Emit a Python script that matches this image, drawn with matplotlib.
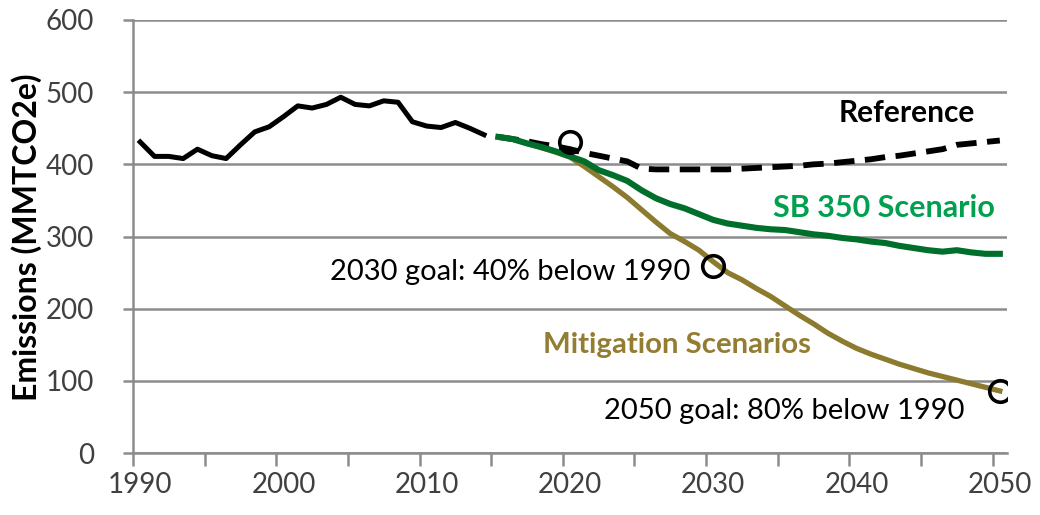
import numpy as np
from matplotlib import pyplot as plt

# historical emissions (MMTCO2e)
hist_years = np.arange(1990, 2015)
hist_vals = [431, 411, 411, 408, 421, 412, 408, 427, 445, 452,
             466, 481, 478, 483, 493, 483, 481, 488, 486, 459,
             453, 451, 458, 450, 441]

proj_years = np.arange(2015, 2051)
# reference case
ref_vals = [438, 435, 432, 428, 425, 421, 416, 412, 408, 404,
            394, 393, 393, 393, 393, 393, 393, 394, 395, 396,
            397, 398, 400, 401, 403, 405, 407, 410, 412, 415,
            418, 421, 427, 429, 431, 433]
# SB 350 scenario
sb350_vals = [438, 435, 429, 424, 418, 411, 404, 392, 385, 377,
              364, 353, 345, 339, 331, 323, 318, 315, 312, 310,
              309, 306, 303, 301, 298, 296, 293, 291, 287, 284,
              281, 279, 281, 278, 276, 276]
# mitigation scenarios
mitig_vals = [438, 435, 429, 423, 417, 410, 397, 383, 369, 354,
              337, 320, 304, 293, 281, 265, 250, 240, 228, 217,
              204, 191, 179, 166, 155, 145, 137, 130, 123, 117,
              111, 106, 101, 96, 91, 86]

goal_years = [2020, 2030, 2050]
goal_vals = [431, 259, 86]

GRAY = '#8c8c8c'
TXT = '#404040'
FONT = 'Lato'


def main():
    fig = plt.figure(figsize=(10.4, 5.15), dpi=100)
    ax = fig.add_axes([133 / 1040, 1 - 453 / 515, 874 / 1040, 433 / 515])

    ax.set_xlim(1989.5, 2050.5)
    ax.set_ylim(0, 600)

    ax.yaxis.grid(True, color=GRAY, lw=1.8)
    ax.set_axisbelow(True)
    for s in ['top', 'right']:
        ax.spines[s].set_visible(False)
    for s in ['left', 'bottom']:
        ax.spines[s].set_color(GRAY)
        ax.spines[s].set_linewidth(1.8)

    ax.set_yticks(np.arange(0, 601, 100))
    ax.tick_params(axis='y', length=7, width=1.8, color=GRAY, pad=21,
                   labelsize=20, labelcolor=TXT)
    for lab in ax.get_yticklabels():
        lab.set_family(FONT)

    # tick marks between categories, labels at category centres
    ax.set_xticks(np.arange(1989.5, 2050, 5))
    ax.set_xticklabels([])
    ax.tick_params(axis='x', which='major', length=9, width=1.8, color=GRAY)
    lab_years = np.arange(1990, 2051, 10)
    ax.set_xticks(lab_years, minor=True)
    ax.set_xticklabels([str(y) for y in lab_years], minor=True,
                       family=FONT, fontsize=20, color=TXT)
    ax.tick_params(axis='x', which='minor', length=0, pad=14)

    ax.plot(hist_years, hist_vals, color='black', lw=3.6,
            solid_joinstyle='round')
    ax.plot(proj_years, ref_vals, color='black', lw=4.2,
            dashes=(3.5, 1.8), solid_capstyle='round')
    ax.plot(proj_years, mitig_vals, color='#8c7a2e', lw=3.8)
    ax.plot(proj_years, sb350_vals, color='#006f2b', lw=4.4)
    ax.plot(goal_years, goal_vals, 'o', ms=15.5, mfc='none', mec='black',
            mew=2.6)

    ax.text(2048.25, 471, 'Reference', ha='right', va='center',
            family=FONT, fontsize=21.5, fontweight='bold', color='black')
    ax.text(2049.65, 339, 'SB 350 Scenario', ha='right', va='center',
            family=FONT, fontsize=22, fontweight='bold', color='#00a04f')
    ax.text(2018.1, 150, 'Mitigation Scenarios', ha='left', va='center',
            family=FONT, fontsize=21.2, fontweight='bold', color='#937d33')
    ax.text(2028.4, 251, '2030 goal: 40% below 1990', ha='right',
            va='center', family=FONT, fontsize=21, color='black')
    ax.text(2022.4, 58, '2050 goal: 80% below 1990', ha='left',
            va='center', family=FONT, fontsize=21, color='black')

    fig.text(27 / 1040, 1 - 237 / 515, 'Emissions (MMTCO2e)',
             rotation=90, ha='center', va='center', family=FONT,
             fontsize=23, fontweight='bold', color='black')

    fig.savefig('out.png', dpi=100)


if __name__ == '__main__':
    main()
